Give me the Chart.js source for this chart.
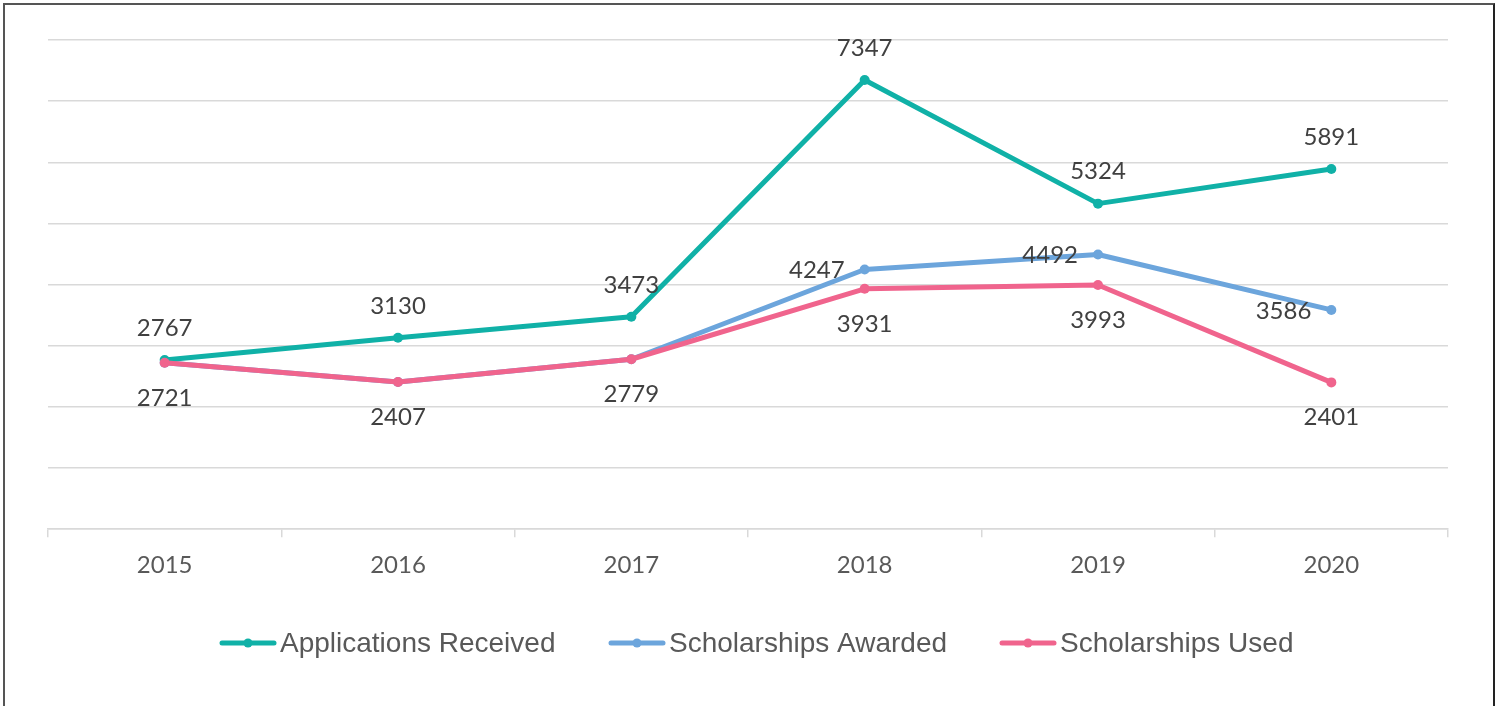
<!DOCTYPE html>
<html>
<head>
<meta charset="utf-8">
<script src="https://cdn.jsdelivr.net/npm/chart.js@4/dist/chart.umd.min.js"></script>
<style>
  html, body { margin: 0; padding: 0; background: #fff; }
  #wrap { position: relative; width: 1501px; height: 706px; overflow: hidden; }
  #frame {
    position: absolute; left: 3px; top: 3px; width: 1488px; height: 720px;
    border-left: 2px solid #555; border-top: 2px solid #555; border-right: 2px solid #222;
    pointer-events: none;
  }
</style>
</head>
<body>
<div id="wrap">
  <canvas id="chart" width="1501" height="706"></canvas>
  <div id="frame"></div>
</div>
<script>
// chart values
const years = ['2015', '2016', '2017', '2018', '2019', '2020'];
const applicationsReceived = [2767, 3130, 3473, 7347, 5324, 5891];
const scholarshipsAwarded = [2721, 2407, 2779, 4247, 4492, 3586];
const scholarshipsUsed = [2721, 2407, 2779, 3931, 3993, 2401];
// awarded labels are only printed where the line splits from "used"
const awardedLabelShown = [false, false, false, true, true, true];

const TEAL = '#10b1a7';
const BLUE = '#6ca5dc';
const PINK = '#f0648d';

// value labels next to each point
const valueLabels = {
  id: 'valueLabels',
  afterDatasetsDraw(chart) {
    const ctx = chart.ctx;
    ctx.save();
    ctx.font = '24px Lato, "Open Sans", sans-serif';
    ctx.fillStyle = '#404040';
    chart.data.datasets.forEach((ds, i) => {
      const meta = chart.getDatasetMeta(i);
      meta.data.forEach((pt, j) => {
        const txt = String(ds.data[j]);
        if (ds.labelPos === 'above') {
          ctx.textAlign = 'center'; ctx.textBaseline = 'middle';
          ctx.fillText(txt, pt.x, pt.y - 32);
        } else if (ds.labelPos === 'below') {
          ctx.textAlign = 'center'; ctx.textBaseline = 'middle';
          ctx.fillText(txt, pt.x, pt.y + 35);
        } else if (ds.labelPos === 'left' && awardedLabelShown[j]) {
          ctx.textAlign = 'right'; ctx.textBaseline = 'middle';
          ctx.fillText(txt, pt.x - 20, pt.y + 1);
        }
      });
    });
    ctx.restore();
  }
};

// legend: line with a dot, like the office chart one
const lineLegend = {
  id: 'lineLegend',
  afterDraw(chart) {
    const ctx = chart.ctx;
    const y = 643;
    const starts = [220, 609, 1000];
    ctx.save();
    ctx.font = '28px "Liberation Sans", Arial, sans-serif';
    ctx.textBaseline = 'middle';
    ctx.textAlign = 'left';
    chart.data.datasets.forEach((ds, i) => {
      const x = starts[i];
      ctx.strokeStyle = ds.borderColor;
      ctx.lineWidth = 5;
      ctx.lineCap = 'round';
      ctx.beginPath();
      ctx.moveTo(x + 2, y);
      ctx.lineTo(x + 54, y);
      ctx.stroke();
      ctx.fillStyle = ds.borderColor;
      ctx.beginPath();
      ctx.arc(x + 28, y, 4.5, 0, Math.PI * 2);
      ctx.fill();
      ctx.fillStyle = '#595959';
      ctx.fillText(ds.label, x + 60, y + 1);
    });
    ctx.restore();
  }
};

const ctx = document.getElementById('chart').getContext('2d');
new Chart(ctx, {
  type: 'line',
  data: {
    labels: years,
    datasets: [
      {
        label: 'Applications Received',
        data: applicationsReceived,
        borderColor: TEAL,
        backgroundColor: TEAL,
        labelPos: 'above',
        order: 1
      },
      {
        label: 'Scholarships Awarded',
        data: scholarshipsAwarded,
        borderColor: BLUE,
        backgroundColor: BLUE,
        labelPos: 'left',
        order: 2
      },
      {
        label: 'Scholarships Used',
        data: scholarshipsUsed,
        borderColor: PINK,
        backgroundColor: PINK,
        labelPos: 'below',
        order: 0
      }
    ]
  },
  options: {
    responsive: false,
    animation: false,
    events: [],
    layout: {
      padding: { left: 48, right: 53, top: 40, bottom: 112 }
    },
    elements: {
      line: { borderWidth: 5, tension: 0, borderCapStyle: 'round', borderJoinStyle: 'round' },
      point: { radius: 5, borderWidth: 0 }
    },
    plugins: {
      legend: { display: false },
      tooltip: { enabled: false }
    },
    scales: {
      x: {
        offset: true,
        grid: {
          offset: true,
          drawOnChartArea: false,
          drawTicks: true,
          tickLength: 8,
          color: '#d9d9d9',
          lineWidth: 1.5
        },
        border: { display: true, color: '#d9d9d9', width: 1.5 },
        ticks: {
          color: '#595959',
          padding: 14,
          font: { family: 'Lato, "Open Sans", sans-serif', size: 24 }
        }
      },
      y: {
        min: 0,
        max: 8000,
        ticks: { display: false, stepSize: 1000 },
        grid: { color: '#d9d9d9', lineWidth: 1.5, drawTicks: false },
        border: { display: false }
      }
    }
  },
  plugins: [valueLabels, lineLegend]
});
</script>
</body>
</html>
